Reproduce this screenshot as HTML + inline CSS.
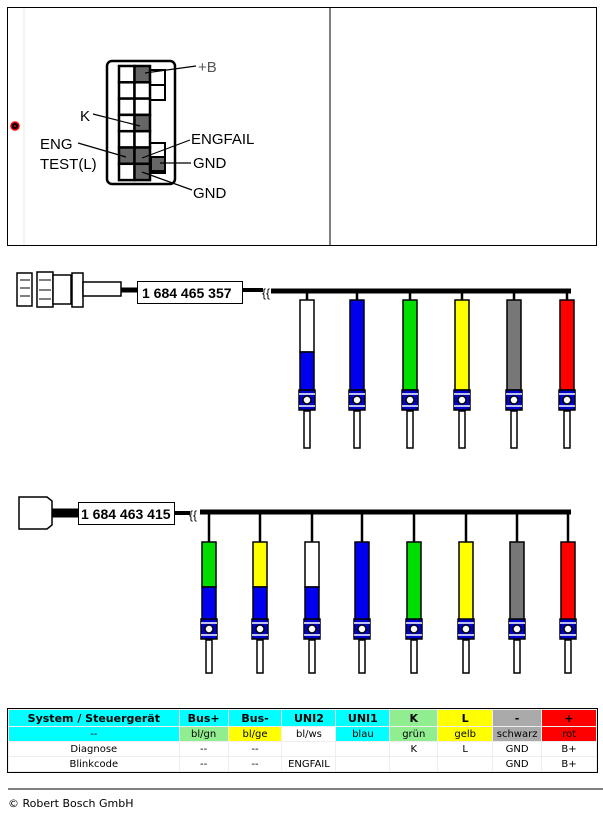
<!DOCTYPE html>
<html><head><meta charset="utf-8"><style>
body{margin:0;background:#fff;width:603px;height:813px;overflow:hidden;font-family:"Liberation Sans",sans-serif}
svg{position:absolute;left:0;top:0}
table{position:absolute;left:8px;top:709px;width:589px;border-collapse:collapse;outline:1px solid #000;font-family:"DejaVu Sans","Liberation Sans",sans-serif;font-size:10px;text-align:center}
td{padding:0;height:14px;border:1px solid #eee;line-height:13px}
.h td{font-weight:bold;font-size:11px;height:16px}
.c{background:#00ffff}.g{background:#90ee90}.y{background:#ffff00}.gr{background:#aaa}.r{background:#ff0000}
.foot{position:absolute;left:8px;top:797px;font-size:11px;font-family:"DejaVu Sans",sans-serif}
.lbl{font-family:"Liberation Sans",sans-serif;font-size:15px}
.sn{font-family:"Liberation Sans",sans-serif;font-size:14px;font-weight:bold}
</style></head><body>
<svg width="603" height="813" viewBox="0 0 603 813">
<defs>
<g id="ring"><rect x="-8" y="0" width="16" height="20" fill="#0000cc" stroke="#000" stroke-width="1.5"/><line x1="-8" y1="4" x2="8" y2="4" stroke="#fff"/><line x1="-8" y1="16" x2="8" y2="16" stroke="#fff"/><circle cx="0" cy="10" r="4" fill="#fff" stroke="#000"/></g>
</defs>
<rect x="7.5" y="7.5" width="589" height="238" fill="#fff" stroke="#000"/>
<line x1="24" y1="8" x2="24" y2="245" stroke="#eee8d8"/>
<line x1="330" y1="8" x2="330" y2="245" stroke="#000"/>
<circle cx="15" cy="126" r="4" fill="#000" stroke="#f00" stroke-width="1.5"/><circle cx="15" cy="126" r="1" fill="#f00"/>
<rect x="107" y="61" width="68" height="123" rx="5" fill="#fff" stroke="#000" stroke-width="2.5"/>
<rect x="150" y="70" width="15" height="15" fill="#fff" stroke="#000" stroke-width="2"/>
<rect x="150" y="85" width="15" height="15" fill="#fff" stroke="#000" stroke-width="2"/>
<rect x="150" y="143" width="15" height="30" fill="#fff" stroke="#000" stroke-width="2"/>
<rect x="151" y="157" width="14" height="14" fill="#666" stroke="#000" stroke-width="2"/>
<g stroke="#000" stroke-width="2.5" fill="#fff">
<rect x="119" y="66" width="15.5" height="16.3"/><rect x="134.5" y="66" width="15.5" height="16.3" fill="#666"/>
<rect x="119" y="82.3" width="15.5" height="16.3"/><rect x="134.5" y="82.3" width="15.5" height="16.3"/>
<rect x="119" y="98.6" width="15.5" height="16.3"/><rect x="134.5" y="98.6" width="15.5" height="16.3"/>
<rect x="119" y="114.9" width="15.5" height="16.3"/><rect x="134.5" y="114.9" width="15.5" height="16.3" fill="#666"/>
<rect x="119" y="131.2" width="15.5" height="16.3"/><rect x="134.5" y="131.2" width="15.5" height="16.3"/>
<rect x="119" y="147.5" width="15.5" height="16.3" fill="#666"/><rect x="134.5" y="147.5" width="15.5" height="16.3" fill="#666"/>
<rect x="119" y="163.8" width="15.5" height="16.3"/><rect x="134.5" y="163.8" width="15.5" height="16.3" fill="#666"/>
</g>
<g stroke="#000" stroke-width="1.2">
<line x1="145" y1="73" x2="196" y2="66"/>
<line x1="93" y1="114" x2="140" y2="126"/>
<line x1="78" y1="143" x2="126" y2="157"/>
<line x1="142" y1="158" x2="190" y2="140"/>
<line x1="160" y1="163" x2="191" y2="163"/>
<line x1="142" y1="172" x2="192" y2="190"/>
</g>
<g class="lbl" fill="#000">
<text x="198" y="72" fill="#555">+B</text>
<text x="80" y="121">K</text>
<text x="40" y="149">ENG</text>
<text x="40" y="169">TEST(L)</text>
<text x="191" y="144">ENGFAIL</text>
<text x="193" y="168">GND</text>
<text x="193" y="198">GND</text>
</g>
<g stroke="#000" stroke-width="1.5" fill="#fff">
<rect x="17" y="273" width="15" height="33"/><rect x="37" y="272" width="16" height="35"/><rect x="53" y="275" width="18" height="29"/><rect x="72" y="273" width="11" height="34"/><rect x="83" y="282" width="38" height="14"/>
</g>
<g stroke="#000" stroke-width="1"><line x1="20" y1="280" x2="30" y2="280"/><line x1="20" y1="288" x2="30" y2="288"/><line x1="20" y1="296" x2="30" y2="296"/><line x1="39" y1="280" x2="51" y2="280"/><line x1="39" y1="290" x2="51" y2="290"/><line x1="39" y1="299" x2="51" y2="299"/></g>
<line x1="121" y1="290" x2="138" y2="290" stroke="#000" stroke-width="5"/>
<rect x="137.5" y="281.5" width="105" height="22" fill="#fff" stroke="#000"/>
<text x="142" y="298" class="sn">1 684 465 357</text>
<line x1="243" y1="290" x2="263" y2="290" stroke="#000" stroke-width="4"/>
<line x1="271" y1="291" x2="571" y2="291" stroke="#000" stroke-width="5"/>
<text x="262" y="297" font-size="12">{{</text>
<path d="M19 497 h28 l5 4 v24 l-5 4 h-28 z" fill="#fff" stroke="#000" stroke-width="1.5"/>
<line x1="52" y1="513" x2="78" y2="513" stroke="#000" stroke-width="9"/>
<rect x="78.5" y="502.5" width="96" height="22" fill="#fff" stroke="#000"/>
<text x="81" y="519" class="sn">1 684 463 415</text>
<line x1="175" y1="513" x2="190" y2="513" stroke="#000" stroke-width="4"/>
<text x="189" y="519" font-size="12">{{</text>
<line x1="200" y1="512" x2="571" y2="512" stroke="#000" stroke-width="5"/>
<g stroke="#000" stroke-width="1.5">
<g transform="translate(307,0)"><line x1="0" y1="291" x2="0" y2="300" stroke-width="2.5"/><rect x="-7" y="300" width="14" height="52" fill="#fff"/><rect x="-7" y="352" width="14" height="38" fill="#0000ee"/><use href="#ring" y="390"/><rect x="-3" y="411" width="6" height="37" fill="#fff"/></g>
<g transform="translate(357,0)"><line x1="0" y1="291" x2="0" y2="300" stroke-width="2.5"/><rect x="-7" y="300" width="14" height="90" fill="#0000ee"/><use href="#ring" y="390"/><rect x="-3" y="411" width="6" height="37" fill="#fff"/></g>
<g transform="translate(410,0)"><line x1="0" y1="291" x2="0" y2="300" stroke-width="2.5"/><rect x="-7" y="300" width="14" height="90" fill="#00dd00"/><use href="#ring" y="390"/><rect x="-3" y="411" width="6" height="37" fill="#fff"/></g>
<g transform="translate(462,0)"><line x1="0" y1="291" x2="0" y2="300" stroke-width="2.5"/><rect x="-7" y="300" width="14" height="90" fill="#ffff00"/><use href="#ring" y="390"/><rect x="-3" y="411" width="6" height="37" fill="#fff"/></g>
<g transform="translate(514,0)"><line x1="0" y1="291" x2="0" y2="300" stroke-width="2.5"/><rect x="-7" y="300" width="14" height="90" fill="#777"/><use href="#ring" y="390"/><rect x="-3" y="411" width="6" height="37" fill="#fff"/></g>
<g transform="translate(567,0)"><line x1="0" y1="291" x2="0" y2="300" stroke-width="2.5"/><rect x="-7" y="300" width="14" height="90" fill="#ff0000"/><use href="#ring" y="390"/><rect x="-3" y="411" width="6" height="37" fill="#fff"/></g>
<g transform="translate(209,0)"><line x1="0" y1="512" x2="0" y2="542" stroke-width="2.5"/><rect x="-7" y="542" width="14" height="45" fill="#00dd00"/><rect x="-7" y="587" width="14" height="33" fill="#0000ee"/><use href="#ring" y="619"/><rect x="-3" y="640" width="6" height="33" fill="#fff"/></g>
<g transform="translate(260,0)"><line x1="0" y1="512" x2="0" y2="542" stroke-width="2.5"/><rect x="-7" y="542" width="14" height="45" fill="#ffff00"/><rect x="-7" y="587" width="14" height="33" fill="#0000ee"/><use href="#ring" y="619"/><rect x="-3" y="640" width="6" height="33" fill="#fff"/></g>
<g transform="translate(312,0)"><line x1="0" y1="512" x2="0" y2="542" stroke-width="2.5"/><rect x="-7" y="542" width="14" height="45" fill="#fff"/><rect x="-7" y="587" width="14" height="33" fill="#0000ee"/><use href="#ring" y="619"/><rect x="-3" y="640" width="6" height="33" fill="#fff"/></g>
<g transform="translate(362,0)"><line x1="0" y1="512" x2="0" y2="542" stroke-width="2.5"/><rect x="-7" y="542" width="14" height="78" fill="#0000ee"/><use href="#ring" y="619"/><rect x="-3" y="640" width="6" height="33" fill="#fff"/></g>
<g transform="translate(414,0)"><line x1="0" y1="512" x2="0" y2="542" stroke-width="2.5"/><rect x="-7" y="542" width="14" height="78" fill="#00dd00"/><use href="#ring" y="619"/><rect x="-3" y="640" width="6" height="33" fill="#fff"/></g>
<g transform="translate(466,0)"><line x1="0" y1="512" x2="0" y2="542" stroke-width="2.5"/><rect x="-7" y="542" width="14" height="78" fill="#ffff00"/><use href="#ring" y="619"/><rect x="-3" y="640" width="6" height="33" fill="#fff"/></g>
<g transform="translate(517,0)"><line x1="0" y1="512" x2="0" y2="542" stroke-width="2.5"/><rect x="-7" y="542" width="14" height="78" fill="#777"/><use href="#ring" y="619"/><rect x="-3" y="640" width="6" height="33" fill="#fff"/></g>
<g transform="translate(568,0)"><line x1="0" y1="512" x2="0" y2="542" stroke-width="2.5"/><rect x="-7" y="542" width="14" height="78" fill="#ff0000"/><use href="#ring" y="619"/><rect x="-3" y="640" width="6" height="33" fill="#fff"/></g>
</g>
<line x1="8" y1="789" x2="603" y2="789" stroke="#000"/>
</svg>
<table>
<colgroup><col style="width:171px"><col style="width:49px"><col style="width:54px"><col style="width:54px"><col style="width:54px"><col style="width:48px"><col style="width:55px"><col style="width:49px"><col style="width:55px"></colgroup>
<tr class="h"><td class="c">System / Steuergerät</td><td class="c">Bus+</td><td class="c">Bus-</td><td class="c">UNI2</td><td class="c">UNI1</td><td class="g">K</td><td class="y">L</td><td class="gr">-</td><td class="r">+</td></tr>
<tr><td class="c">--</td><td class="g">bl/gn</td><td class="y">bl/ge</td><td>bl/ws</td><td class="c">blau</td><td class="g">grün</td><td class="y">gelb</td><td class="gr">schwarz</td><td class="r">rot</td></tr>
<tr><td>Diagnose</td><td>--</td><td>--</td><td></td><td></td><td>K</td><td>L</td><td>GND</td><td>B+</td></tr>
<tr><td>Blinkcode</td><td>--</td><td>--</td><td>ENGFAIL</td><td></td><td></td><td></td><td>GND</td><td>B+</td></tr>
</table>
<div class="foot">© Robert Bosch GmbH</div>
</body></html>
